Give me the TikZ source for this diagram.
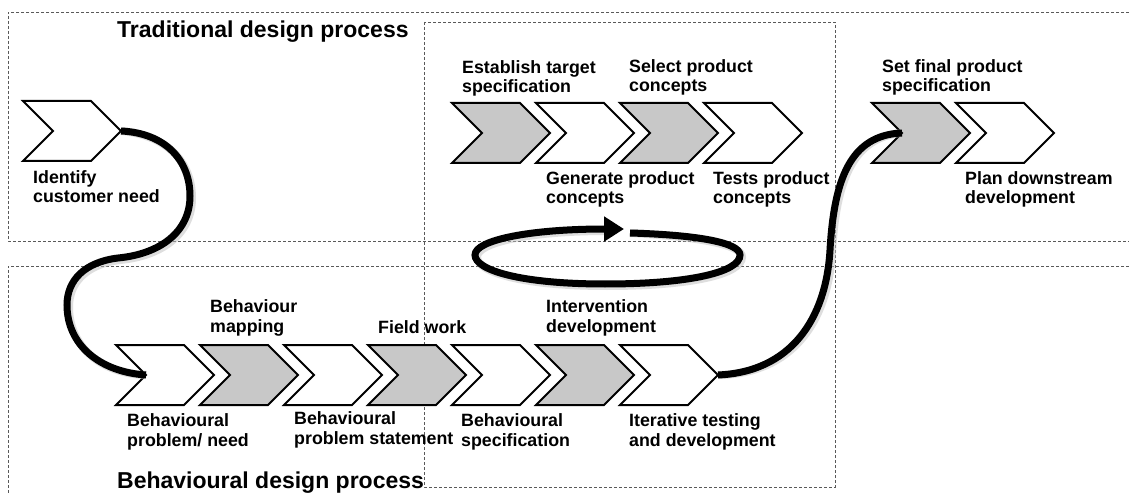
\documentclass[tikz,border=0pt]{standalone}
\usepackage{fontspec}
\setmainfont{Liberation Sans}
\usetikzlibrary{arrows.meta}
\newcommand{\mychev}[4]{%
  \draw[chev, fill=#4] (#2,#3) -- ++(68,0) -- ++(30,30) -- ++(-30,30) -- ++(-68,0) -- ++(30,-30) -- cycle;
  \coordinate (#1-tip) at (#2+98,#3+30);
  \coordinate (#1-notch) at (#2+30,#3+30);}
\definecolor{chevgrey}{HTML}{C8C8C8}
\begin{document}
\begin{tikzpicture}[x=1pt,y=-1pt,
  chev/.style={draw=black, line width=2pt, line join=miter},
  lbl/.style={anchor=base west, inner sep=0pt, align=left, font=\fontsize{17.8}{19.5}\selectfont\bfseries},
  ttl/.style={anchor=base west, inner sep=0pt, font=\fontsize{23}{26}\selectfont\bfseries},
  dashbox/.style={draw=black!65, line width=0.8pt, dash pattern=on 3pt off 2pt},
  conn/.style={draw=black, line width=7pt, line cap=butt},
  shade/.style={draw=black!25, line width=8pt, opacity=0.5}
]
\useasboundingbox (0,0) rectangle (1129,494);
\fill[white] (0,0) rectangle (1129,494);

% dashed frames
\draw[dashbox] (1129,12) -- (8,12) -- (8,241) -- (1129,241);
\draw[dashbox] (1129,266) -- (8,266) -- (8,494);
\draw[dashbox] (424,22) rectangle (835,487);

% titles
\node[ttl] (ttrad) at (117,38) {Traditional design process};
\node[ttl] (tbeh) at (117,488) {Behavioural design process};

% top row
\mychev{idn}{23}{101}{white}
\mychev{t1}{452}{103}{chevgrey}
\mychev{t2}{536}{103}{white}
\mychev{t3}{620}{103}{chevgrey}
\mychev{t4}{704}{103}{white}
\mychev{s1}{872}{103}{chevgrey}
\mychev{s2}{956}{103}{white}

% bottom row
\mychev{b1}{116}{345}{white}
\mychev{b2}{200}{345}{chevgrey}
\mychev{b3}{284}{345}{white}
\mychev{b4}{368}{345}{chevgrey}
\mychev{b5}{452}{345}{white}
\mychev{b6}{536}{345}{chevgrey}
\mychev{b7}{620}{345}{white}

% labels top (anchor = baseline of last line)
\node[lbl] (l1) at (33,203) {Identify\\customer need};
\node[lbl] (l2) at (462,93) {Establish target\\specification};
\node[lbl] (l3) at (629,92) {Select product\\concepts};
\node[lbl] (l4) at (546,204) {Generate product\\concepts};
\node[lbl] (l5) at (713,204) {Tests product\\concepts};
\node[lbl] (l6) at (882,92) {Set final product\\specification};
\node[lbl] (l7) at (965,204) {Plan downstream\\development};

% labels bottom
\node[lbl] (m1) at (210,332) {Behaviour\\mapping};
\node[lbl] (m2) at (378,333) {Field work};
\node[lbl] (m3) at (546,332) {Intervention\\development};
\node[lbl] (m4) at (127,446) {Behavioural\\problem/ need};
\node[lbl] (m5) at (294,444) {Behavioural\\problem statement};
\node[lbl] (m6) at (461,446) {Behavioural\\specification};
\node[lbl] (m7) at (629,446) {Iterative testing\\and development};

% connectors
\coordinate (loopS) at (630,233);
\coordinate (loopE) at (624,229);

\begin{scope}[shift={(2,2)}]
\draw[shade] (idn-tip) .. controls (165,133) and (190,160) .. (190,196)
  .. controls (190,232) and (160,254) .. (118,258)
  .. controls (85,262) and (67,280) .. (67,305)
  .. controls (67,345) and (100,372) .. (b1-notch);
\draw[shade] (loopS) .. controls (700,235) and (740,243) .. (740,255)
  .. controls (740,272) and (690,284) .. (605,284)
  .. controls (520,284) and (475,270) .. (475,255)
  .. controls (475,240) and (530,229) .. (605,229);
\draw[shade] (b7-tip) .. controls (790,372) and (826,320) .. (830,250)
  .. controls (834,180) and (850,135) .. (s1-notch);
\end{scope}

\draw[conn] (idn-tip) .. controls (165,133) and (190,160) .. (190,196)
  .. controls (190,232) and (160,254) .. (118,258)
  .. controls (85,262) and (67,280) .. (67,305)
  .. controls (67,345) and (100,372) .. (b1-notch);
\draw[conn, -{Triangle[length=20pt,width=24pt]}] (loopS) .. controls (700,235) and (740,243) .. (740,255)
  .. controls (740,272) and (690,284) .. (605,284)
  .. controls (520,284) and (475,270) .. (475,255)
  .. controls (475,240) and (530,229) .. (loopE);
\draw[conn] (b7-tip) .. controls (790,372) and (826,320) .. (830,250)
  .. controls (834,180) and (850,135) .. (s1-notch);
\end{tikzpicture}
\end{document}
